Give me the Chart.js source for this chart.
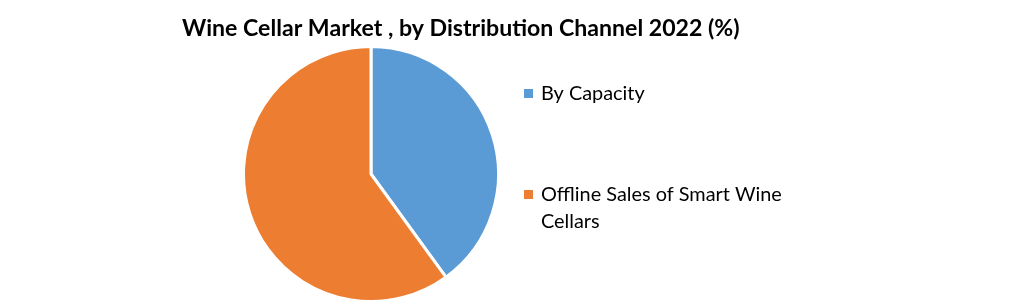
<!DOCTYPE html>
<html><head><meta charset="utf-8">
<script src="https://cdn.jsdelivr.net/npm/chart.js@4/dist/chart.umd.min.js"></script>
<style>html,body{margin:0;padding:0;background:#fff;}#wrap{width:1021px;height:304px;}</style>
</head><body><div id="wrap"><canvas id="c" width="1021" height="304"></canvas></div>
<script>
const titleText = 'Wine Cellar Market , by Distribution Channel 2022 (%)';
const categories = ['By Capacity', 'Offline Sales of Smart Wine Cellars'];
const legendLines = [['By Capacity'], ['Offline Sales of Smart Wine', 'Cellars']];
const shares = [40, 60];
const colors = ['#5B9BD5', '#ED7D31'];

const FONT = 'Lato, "Open Sans", sans-serif';
function fitFont(ctx, text, weight, target, base) {
  ctx.font = weight + ' ' + base + 'px ' + FONT;
  const w = ctx.measureText(text).width;
  return base * target / w;
}
const textPlugin = {
  id: 'texts',
  afterDraw(chart) {
    const ctx = chart.ctx;
    ctx.save();
    ctx.fillStyle = '#000';
    ctx.textBaseline = 'alphabetic';
    ctx.textAlign = 'left';
    let fs = fitFont(ctx, titleText, 'bold', 558, 20);
    ctx.font = 'bold ' + fs + 'px ' + FONT;
    ctx.fillText(titleText, 182, 36);
    const lfs = fitFont(ctx, 'Offline Sales of Smart Wine', 'normal', 241, 18);
    ctx.font = lfs + 'px ' + FONT;
    const ys = [100, 201];
    legendLines.forEach((lines, i) => {
      ctx.fillStyle = colors[i];
      ctx.fillRect(524, ys[i] - 11, 9, 9);
      ctx.fillStyle = '#000';
      lines.forEach((ln, j) => ctx.fillText(ln, 541, ys[i] + j * 27));
    });
    ctx.restore();
  }
};

new Chart(document.getElementById('c'), {
  type: 'pie',
  data: {
    labels: categories,
    datasets: [{ data: shares, backgroundColor: colors, borderColor: '#fff', borderWidth: 3 }]
  },
  options: {
    responsive: false,
    animation: false,
    layout: { padding: { left: 242, right: 521, top: 45, bottom: 1 } },
    plugins: { legend: { display: false }, tooltip: { enabled: false }, title: { display: false } }
  },
  plugins: [textPlugin]
});
</script></body></html>
